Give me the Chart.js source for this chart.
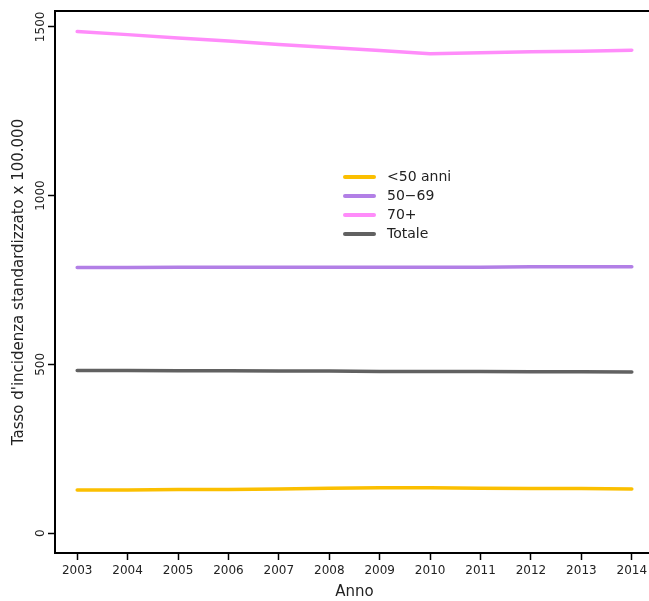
<!DOCTYPE html>
<html>
<head>
<meta charset="utf-8">
<script src="https://cdn.jsdelivr.net/npm/chart.js@4/dist/chart.umd.min.js"></script>
<style>
  html, body { margin: 0; padding: 0; background: #fff; overflow: hidden; }
  #wrap { position: relative; width: 660px; height: 601px; }
</style>
</head>
<body>
<div id="wrap"><canvas id="chart-node"></canvas></div>
<script>

// DATA //
const years = [2003, 2004, 2005, 2006, 2007, 2008, 2009, 2010, 2011, 2012, 2013, 2014];
const yTicks = [0, 500, 1000, 1500];
const seriesLabels = ['<50 anni', '50\u221269', '70+', 'Totale'];
const under50 = [128, 128, 129, 129, 131, 133, 134, 134, 133, 132, 132, 131];
const age50to69 = [787, 787, 788, 788, 788, 788, 788, 788, 788, 789, 789, 789];
const over70 = [1486, 1477, 1467, 1458, 1448, 1439, 1430, 1420, 1423, 1426, 1428, 1431];
const totale = [482, 482, 481, 481, 480, 480, 479, 479, 479, 478, 478, 477];

const COLORS = ['#fbbf00', '#b27fe6', '#ff8cfa', '#616161'];
const FONT = 'DejaVu Sans';

const toPoints = (values) => values.map((v, i) => ({x: years[i], y: v}));

// BOX AROUND PLOT AREA //
const boxPlugin = {
  id: 'box',
  afterDraw(chart) {
    const {ctx, chartArea: a} = chart;
    ctx.save();
    ctx.strokeStyle = '#000';
    ctx.lineWidth = 2;
    ctx.strokeRect(a.left, a.top, a.right - a.left, a.bottom - a.top);
    ctx.restore();
  }
};

// LEGEND INSIDE PLOT //
const innerLegend = {
  id: 'innerLegend',
  afterDraw(chart) {
    const {ctx} = chart;
    ctx.save();
    ctx.font = `14px "${ FONT }"`;
    ctx.textBaseline = 'middle';
    ctx.fillStyle = '#222';
    chart.data.datasets.forEach((ds, i) => {
      const y = 177 + i * 19;
      ctx.strokeStyle = ds.borderColor;
      ctx.lineWidth = 4;
      ctx.lineCap = 'round';
      ctx.beginPath();
      ctx.moveTo(345, y);
      ctx.lineTo(374, y);
      ctx.stroke();
      ctx.fillText(ds.label, 387, y);
    });
    ctx.restore();
  }
};

new Chart(document.getElementById('chart-node'), {
  type: 'line',
  data: {
    datasets: [under50, age50to69, over70, totale].map((values, i) => ({
      label: seriesLabels[i],
      data: toPoints(values),
      borderColor: COLORS[i],
      backgroundColor: COLORS[i],
      borderWidth: 3.5,
      borderCapStyle: 'round',
      pointRadius: 0,
      tension: 0
    }))
  },
  options: {
    responsive: true,
    maintainAspectRatio: false,
    animation: false,
    layout: {padding: {top: 11, right: 6, bottom: 0, left: 0}},
    plugins: {
      legend: {display: false},
      tooltip: {enabled: false}
    },
    scales: {
      x: {
        type: 'linear',
        min: 2002.56,
        max: 2014.44,
        afterBuildTicks: (scale) => { scale.ticks = years.map(v => ({value: v})); },
        afterFit: (scale) => { scale.height = 48; },
        grid: {drawOnChartArea: false, tickLength: 7, tickColor: '#000', tickWidth: 1.5},
        border: {display: true, color: '#000', width: 2},
        ticks: {
          color: '#222', font: {family: FONT, size: 12}, padding: 4,
          maxRotation: 0, autoSkip: false,
          callback: (v) => String(v)
        },
        title: {display: true, text: 'Anno', color: '#222', font: {family: FONT, size: 15}, padding: {top: 0, bottom: 0}}
      },
      y: {
        type: 'linear',
        min: -59,
        max: 1547,
        afterBuildTicks: (scale) => { scale.ticks = yTicks.map(v => ({value: v})); },
        afterFit: (scale) => { scale.width = 55; },
        grid: {drawOnChartArea: false, tickLength: 7, tickColor: '#000', tickWidth: 1.5},
        border: {display: true, color: '#000', width: 2},
        ticks: {
          color: '#222', font: {family: FONT, size: 12}, padding: -8,
          minRotation: 90, maxRotation: 90, crossAlign: 'center',
          callback: (v) => String(v)
        },
        title: {display: true, text: "Tasso d'incidenza standardizzato x 100.000", color: '#222', font: {family: FONT, size: 15}, padding: {top: 10, bottom: 0}}
      }
    }
  },
  plugins: [boxPlugin, innerLegend]
});

</script>
</body>
</html>
